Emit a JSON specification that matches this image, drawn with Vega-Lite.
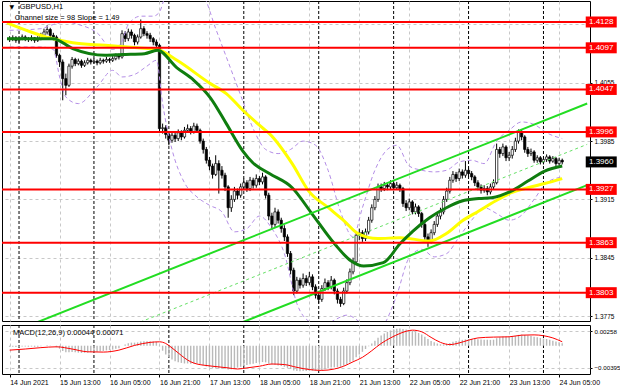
{
"$schema":"https://vega.github.io/schema/vega-lite/v6.json",
"padding":0,
"background":"#ffffff",
"spacing":2,
"config":{"view":{"stroke":"#000000","strokeWidth":1},"font":"Liberation Sans","axis":{"labelFont":"Liberation Sans","labelFontSize":6.5,"labelColor":"#000000","tickColor":"#000000","gridColor":"#c8c8c8","gridDash":[3,3],"gridWidth":1,"domain":false}},
"resolve":{"scale":{"x":"independent","y":"independent"}},
"datasets":{
"candles":[
{"t":0,"o":1.4108,"hi":1.4111,"lo":1.4104,"c":1.4107,"m":-0.0002},
{"t":1,"o":1.4107,"hi":1.4112,"lo":1.4105,"c":1.4109,"m":-0.00018},
{"t":2,"o":1.4109,"hi":1.4111,"lo":1.4103,"c":1.4106,"m":-0.00022},
{"t":3,"o":1.4106,"hi":1.4110,"lo":1.4103,"c":1.4108,"m":-0.0002},
{"t":4,"o":1.4108,"hi":1.4113,"lo":1.4106,"c":1.4110,"m":-0.00015},
{"t":5,"o":1.4110,"hi":1.4112,"lo":1.4105,"c":1.4108,"m":-0.00015},
{"t":6,"o":1.4108,"hi":1.4110,"lo":1.4104,"c":1.4107,"m":-0.00018},
{"t":7,"o":1.4107,"hi":1.4112,"lo":1.4105,"c":1.4109,"m":-0.00015},
{"t":8,"o":1.4109,"hi":1.4110,"lo":1.4103,"c":1.4106,"m":-0.0002},
{"t":9,"o":1.4106,"hi":1.4111,"lo":1.4104,"c":1.4108,"m":-0.00018},
{"t":10,"o":1.4108,"hi":1.4115,"lo":1.4106,"c":1.4112,"m":-0.0001},
{"t":11,"o":1.4112,"hi":1.4120,"lo":1.4110,"c":1.4116,"m":0},
{"t":12,"o":1.4116,"hi":1.4124,"lo":1.4113,"c":1.4119,"m":0.0001},
{"t":13,"o":1.4119,"hi":1.4121,"lo":1.4109,"c":1.4112,"m":0.00005},
{"t":14,"o":1.4112,"hi":1.4115,"lo":1.4106,"c":1.4110,"m":0},
{"t":15,"o":1.4110,"hi":1.4112,"lo":1.4085,"c":1.4088,"m":-0.0003},
{"t":16,"o":1.4088,"hi":1.4090,"lo":1.4074,"c":1.4080,"m":-0.00055},
{"t":17,"o":1.4080,"hi":1.4083,"lo":1.4034,"c":1.4060,"m":-0.00095},
{"t":18,"o":1.4060,"hi":1.4066,"lo":1.4040,"c":1.4052,"m":-0.0012},
{"t":19,"o":1.4052,"hi":1.4078,"lo":1.4050,"c":1.4075,"m":-0.0012},
{"t":20,"o":1.4075,"hi":1.4086,"lo":1.4072,"c":1.4083,"m":-0.00115},
{"t":21,"o":1.4083,"hi":1.4085,"lo":1.4075,"c":1.4078,"m":-0.0012},
{"t":22,"o":1.4078,"hi":1.4084,"lo":1.4076,"c":1.4081,"m":-0.00125},
{"t":23,"o":1.4081,"hi":1.4083,"lo":1.4073,"c":1.4076,"m":-0.0013},
{"t":24,"o":1.4076,"hi":1.4082,"lo":1.4074,"c":1.4079,"m":-0.00128},
{"t":25,"o":1.4079,"hi":1.4085,"lo":1.4077,"c":1.4082,"m":-0.00125},
{"t":26,"o":1.4082,"hi":1.4084,"lo":1.4077,"c":1.4080,"m":-0.0012},
{"t":27,"o":1.4080,"hi":1.4084,"lo":1.4078,"c":1.4081,"m":-0.00115},
{"t":28,"o":1.4081,"hi":1.4083,"lo":1.4076,"c":1.4079,"m":-0.0011},
{"t":29,"o":1.4079,"hi":1.4085,"lo":1.4077,"c":1.4082,"m":-0.001},
{"t":30,"o":1.4082,"hi":1.4084,"lo":1.4078,"c":1.4081,"m":-0.00095},
{"t":31,"o":1.4081,"hi":1.4086,"lo":1.4079,"c":1.4083,"m":-0.00085},
{"t":32,"o":1.4083,"hi":1.4085,"lo":1.4079,"c":1.4082,"m":-0.0008},
{"t":33,"o":1.4082,"hi":1.4087,"lo":1.4080,"c":1.4084,"m":-0.0007},
{"t":34,"o":1.4084,"hi":1.4090,"lo":1.4082,"c":1.4087,"m":-0.00055},
{"t":35,"o":1.4087,"hi":1.4090,"lo":1.4083,"c":1.4086,"m":-0.00045},
{"t":36,"o":1.4086,"hi":1.4118,"lo":1.4084,"c":1.4114,"m":0},
{"t":37,"o":1.4114,"hi":1.4117,"lo":1.4104,"c":1.4108,"m":0.0002},
{"t":38,"o":1.4108,"hi":1.4120,"lo":1.4105,"c":1.4116,"m":0.00045},
{"t":39,"o":1.4116,"hi":1.4119,"lo":1.4108,"c":1.4112,"m":0.00055},
{"t":40,"o":1.4112,"hi":1.4114,"lo":1.4100,"c":1.4104,"m":0.00055},
{"t":41,"o":1.4104,"hi":1.4113,"lo":1.4101,"c":1.4110,"m":0.0006},
{"t":42,"o":1.4110,"hi":1.4131,"lo":1.4108,"c":1.4120,"m":0.00075},
{"t":43,"o":1.4120,"hi":1.4123,"lo":1.4111,"c":1.4114,"m":0.0008},
{"t":44,"o":1.4114,"hi":1.4117,"lo":1.4108,"c":1.4112,"m":0.00082},
{"t":45,"o":1.4112,"hi":1.4115,"lo":1.4104,"c":1.4108,"m":0.0008},
{"t":46,"o":1.4108,"hi":1.4110,"lo":1.4100,"c":1.4104,"m":0.00075},
{"t":47,"o":1.4104,"hi":1.4107,"lo":1.4097,"c":1.4100,"m":0.00068},
{"t":48,"o":1.4100,"hi":1.4102,"lo":1.3995,"c":1.4000,"m":-0.0001},
{"t":49,"o":1.4000,"hi":1.4006,"lo":1.3994,"c":1.4001,"m":-0.0009},
{"t":50,"o":1.4001,"hi":1.4004,"lo":1.3988,"c":1.3993,"m":-0.0016},
{"t":51,"o":1.3993,"hi":1.3996,"lo":1.3980,"c":1.3986,"m":-0.0021},
{"t":52,"o":1.3986,"hi":1.3995,"lo":1.3983,"c":1.3992,"m":-0.0025},
{"t":53,"o":1.3992,"hi":1.3996,"lo":1.3984,"c":1.3988,"m":-0.0028},
{"t":54,"o":1.3988,"hi":1.3999,"lo":1.3985,"c":1.3995,"m":-0.003},
{"t":55,"o":1.3995,"hi":1.3998,"lo":1.3986,"c":1.3990,"m":-0.0031},
{"t":56,"o":1.3990,"hi":1.4002,"lo":1.3988,"c":1.3998,"m":-0.0032},
{"t":57,"o":1.3998,"hi":1.4005,"lo":1.3995,"c":1.4000,"m":-0.0032},
{"t":58,"o":1.4000,"hi":1.4003,"lo":1.3993,"c":1.3996,"m":-0.00325},
{"t":59,"o":1.3996,"hi":1.4007,"lo":1.3994,"c":1.4003,"m":-0.0032},
{"t":60,"o":1.4003,"hi":1.4006,"lo":1.3995,"c":1.3998,"m":-0.0032},
{"t":61,"o":1.3998,"hi":1.4000,"lo":1.3982,"c":1.3985,"m":-0.00335},
{"t":62,"o":1.3985,"hi":1.3988,"lo":1.3970,"c":1.3975,"m":-0.00355},
{"t":63,"o":1.3975,"hi":1.3978,"lo":1.3958,"c":1.3962,"m":-0.00375},
{"t":64,"o":1.3962,"hi":1.3966,"lo":1.3950,"c":1.3955,"m":-0.0039},
{"t":65,"o":1.3955,"hi":1.3958,"lo":1.3940,"c":1.3945,"m":-0.00405},
{"t":66,"o":1.3945,"hi":1.3968,"lo":1.3943,"c":1.3958,"m":-0.00405},
{"t":67,"o":1.3958,"hi":1.3962,"lo":1.3922,"c":1.3950,"m":-0.0041},
{"t":68,"o":1.3950,"hi":1.3955,"lo":1.3940,"c":1.3944,"m":-0.0041},
{"t":69,"o":1.3944,"hi":1.3947,"lo":1.3925,"c":1.3930,"m":-0.00415},
{"t":70,"o":1.3930,"hi":1.3932,"lo":1.3893,"c":1.3905,"m":-0.0043},
{"t":71,"o":1.3905,"hi":1.3920,"lo":1.3900,"c":1.3915,"m":-0.00425},
{"t":72,"o":1.3915,"hi":1.3930,"lo":1.3912,"c":1.3925,"m":-0.0041},
{"t":73,"o":1.3925,"hi":1.3928,"lo":1.3915,"c":1.3920,"m":-0.00395},
{"t":74,"o":1.3920,"hi":1.3934,"lo":1.3917,"c":1.3930,"m":-0.0038},
{"t":75,"o":1.3930,"hi":1.3940,"lo":1.3926,"c":1.3935,"m":-0.00365},
{"t":76,"o":1.3935,"hi":1.3938,"lo":1.3924,"c":1.3928,"m":-0.0035},
{"t":77,"o":1.3928,"hi":1.3942,"lo":1.3925,"c":1.3938,"m":-0.00335},
{"t":78,"o":1.3938,"hi":1.3941,"lo":1.3928,"c":1.3932,"m":-0.00325},
{"t":79,"o":1.3932,"hi":1.3945,"lo":1.3929,"c":1.3940,"m":-0.0031},
{"t":80,"o":1.3940,"hi":1.3943,"lo":1.3932,"c":1.3936,"m":-0.003},
{"t":81,"o":1.3936,"hi":1.3947,"lo":1.3933,"c":1.3942,"m":-0.00295},
{"t":82,"o":1.3942,"hi":1.3944,"lo":1.3916,"c":1.3920,"m":-0.003},
{"t":83,"o":1.3920,"hi":1.3923,"lo":1.3890,"c":1.3895,"m":-0.0032},
{"t":84,"o":1.3895,"hi":1.3899,"lo":1.3880,"c":1.3885,"m":-0.0034},
{"t":85,"o":1.3885,"hi":1.3905,"lo":1.3882,"c":1.3900,"m":-0.00345},
{"t":86,"o":1.3900,"hi":1.3903,"lo":1.3886,"c":1.3890,"m":-0.00355},
{"t":87,"o":1.3890,"hi":1.3893,"lo":1.3875,"c":1.3880,"m":-0.00365},
{"t":88,"o":1.3880,"hi":1.3884,"lo":1.3865,"c":1.3870,"m":-0.0038},
{"t":89,"o":1.3870,"hi":1.3873,"lo":1.3846,"c":1.3850,"m":-0.004},
{"t":90,"o":1.3850,"hi":1.3853,"lo":1.3825,"c":1.3830,"m":-0.0042},
{"t":91,"o":1.3830,"hi":1.3833,"lo":1.3800,"c":1.3805,"m":-0.00445},
{"t":92,"o":1.3805,"hi":1.3822,"lo":1.3802,"c":1.3818,"m":-0.00455},
{"t":93,"o":1.3818,"hi":1.3821,"lo":1.3808,"c":1.3812,"m":-0.0046},
{"t":94,"o":1.3812,"hi":1.3826,"lo":1.3809,"c":1.3820,"m":-0.00455},
{"t":95,"o":1.3820,"hi":1.3824,"lo":1.3811,"c":1.3815,"m":-0.00455},
{"t":96,"o":1.3815,"hi":1.3828,"lo":1.3812,"c":1.3822,"m":-0.0045},
{"t":97,"o":1.3822,"hi":1.3825,"lo":1.3806,"c":1.3810,"m":-0.0045},
{"t":98,"o":1.3810,"hi":1.3813,"lo":1.3796,"c":1.3800,"m":-0.00455},
{"t":99,"o":1.3800,"hi":1.3805,"lo":1.3790,"c":1.3795,"m":-0.0045},
{"t":100,"o":1.3795,"hi":1.3812,"lo":1.3792,"c":1.3808,"m":-0.0044},
{"t":101,"o":1.3808,"hi":1.3820,"lo":1.3805,"c":1.3815,"m":-0.00425},
{"t":102,"o":1.3815,"hi":1.3818,"lo":1.3806,"c":1.3810,"m":-0.0041},
{"t":103,"o":1.3810,"hi":1.3823,"lo":1.3807,"c":1.3818,"m":-0.00395},
{"t":104,"o":1.3818,"hi":1.3820,"lo":1.3801,"c":1.3805,"m":-0.0039},
{"t":105,"o":1.3805,"hi":1.3808,"lo":1.3790,"c":1.3795,"m":-0.00385},
{"t":106,"o":1.3795,"hi":1.3798,"lo":1.3786,"c":1.3790,"m":-0.0038},
{"t":107,"o":1.3790,"hi":1.3809,"lo":1.3788,"c":1.3805,"m":-0.0036},
{"t":108,"o":1.3805,"hi":1.3819,"lo":1.3802,"c":1.3815,"m":-0.00335},
{"t":109,"o":1.3815,"hi":1.3832,"lo":1.3812,"c":1.3828,"m":-0.00305},
{"t":110,"o":1.3828,"hi":1.3845,"lo":1.3825,"c":1.3840,"m":-0.0027},
{"t":111,"o":1.3840,"hi":1.3876,"lo":1.3838,"c":1.3872,"m":-0.0021},
{"t":112,"o":1.3872,"hi":1.3880,"lo":1.3866,"c":1.3875,"m":-0.0016},
{"t":113,"o":1.3875,"hi":1.3878,"lo":1.3864,"c":1.3868,"m":-0.0011},
{"t":114,"o":1.3868,"hi":1.3880,"lo":1.3865,"c":1.3876,"m":-0.0006},
{"t":115,"o":1.3876,"hi":1.3894,"lo":1.3873,"c":1.3890,"m":-0.0001},
{"t":116,"o":1.3890,"hi":1.3909,"lo":1.3887,"c":1.3905,"m":0.0004},
{"t":117,"o":1.3905,"hi":1.3919,"lo":1.3902,"c":1.3915,"m":0.0009},
{"t":118,"o":1.3915,"hi":1.3934,"lo":1.3912,"c":1.3930,"m":0.00145},
{"t":119,"o":1.3930,"hi":1.3934,"lo":1.3924,"c":1.3928,"m":0.00185},
{"t":120,"o":1.3928,"hi":1.3936,"lo":1.3925,"c":1.3932,"m":0.0022},
{"t":121,"o":1.3932,"hi":1.3935,"lo":1.3926,"c":1.3930,"m":0.0025},
{"t":122,"o":1.3930,"hi":1.3938,"lo":1.3927,"c":1.3934,"m":0.00275},
{"t":123,"o":1.3934,"hi":1.3936,"lo":1.3926,"c":1.3929,"m":0.00295},
{"t":124,"o":1.3929,"hi":1.3936,"lo":1.3927,"c":1.3932,"m":0.00305},
{"t":125,"o":1.3932,"hi":1.3934,"lo":1.3924,"c":1.3928,"m":0.0031},
{"t":126,"o":1.3928,"hi":1.3930,"lo":1.3906,"c":1.3910,"m":0.003},
{"t":127,"o":1.3910,"hi":1.3914,"lo":1.3901,"c":1.3905,"m":0.0029},
{"t":128,"o":1.3905,"hi":1.3916,"lo":1.3902,"c":1.3912,"m":0.0028},
{"t":129,"o":1.3912,"hi":1.3914,"lo":1.3897,"c":1.3900,"m":0.00265},
{"t":130,"o":1.3900,"hi":1.3910,"lo":1.3897,"c":1.3906,"m":0.0025},
{"t":131,"o":1.3906,"hi":1.3908,"lo":1.3894,"c":1.3898,"m":0.0023},
{"t":132,"o":1.3898,"hi":1.3900,"lo":1.3881,"c":1.3885,"m":0.002},
{"t":133,"o":1.3885,"hi":1.3888,"lo":1.3866,"c":1.3870,"m":0.0016},
{"t":134,"o":1.3870,"hi":1.3874,"lo":1.3858,"c":1.3865,"m":0.0012},
{"t":135,"o":1.3865,"hi":1.3879,"lo":1.3862,"c":1.3875,"m":0.00085},
{"t":136,"o":1.3875,"hi":1.3889,"lo":1.3872,"c":1.3885,"m":0.0006},
{"t":137,"o":1.3885,"hi":1.3899,"lo":1.3882,"c":1.3895,"m":0.0004},
{"t":138,"o":1.3895,"hi":1.3905,"lo":1.3891,"c":1.3900,"m":0.00025},
{"t":139,"o":1.3900,"hi":1.3919,"lo":1.3897,"c":1.3915,"m":0.00025},
{"t":140,"o":1.3915,"hi":1.3929,"lo":1.3912,"c":1.3925,"m":0.00035},
{"t":141,"o":1.3925,"hi":1.3942,"lo":1.3922,"c":1.3938,"m":0.0005},
{"t":142,"o":1.3938,"hi":1.3949,"lo":1.3935,"c":1.3945,"m":0.0007},
{"t":143,"o":1.3945,"hi":1.3948,"lo":1.3936,"c":1.3940,"m":0.00085},
{"t":144,"o":1.3940,"hi":1.3952,"lo":1.3937,"c":1.3948,"m":0.00095},
{"t":145,"o":1.3948,"hi":1.3951,"lo":1.3940,"c":1.3944,"m":0.00105},
{"t":146,"o":1.3944,"hi":1.3961,"lo":1.3941,"c":1.3950,"m":0.00115},
{"t":147,"o":1.3950,"hi":1.3953,"lo":1.3942,"c":1.3946,"m":0.0012},
{"t":148,"o":1.3946,"hi":1.3949,"lo":1.3938,"c":1.3942,"m":0.00122},
{"t":149,"o":1.3942,"hi":1.3944,"lo":1.3931,"c":1.3935,"m":0.0012},
{"t":150,"o":1.3935,"hi":1.3938,"lo":1.3926,"c":1.3930,"m":0.00115},
{"t":151,"o":1.3930,"hi":1.3933,"lo":1.3922,"c":1.3926,"m":0.0011},
{"t":152,"o":1.3926,"hi":1.3932,"lo":1.3923,"c":1.3928,"m":0.00108},
{"t":153,"o":1.3928,"hi":1.3931,"lo":1.3920,"c":1.3924,"m":0.00105},
{"t":154,"o":1.3924,"hi":1.3934,"lo":1.3921,"c":1.3930,"m":0.00105},
{"t":155,"o":1.3930,"hi":1.3939,"lo":1.3927,"c":1.3935,"m":0.00108},
{"t":156,"o":1.3935,"hi":1.3982,"lo":1.3933,"c":1.3975,"m":0.00135},
{"t":157,"o":1.3975,"hi":1.3978,"lo":1.3965,"c":1.3970,"m":0.0015},
{"t":158,"o":1.3970,"hi":1.3982,"lo":1.3967,"c":1.3978,"m":0.00165},
{"t":159,"o":1.3978,"hi":1.3980,"lo":1.3961,"c":1.3965,"m":0.00165},
{"t":160,"o":1.3965,"hi":1.3972,"lo":1.3961,"c":1.3968,"m":0.00165},
{"t":161,"o":1.3968,"hi":1.3979,"lo":1.3964,"c":1.3975,"m":0.0017},
{"t":162,"o":1.3975,"hi":1.3989,"lo":1.3972,"c":1.3985,"m":0.0018},
{"t":163,"o":1.3985,"hi":1.3999,"lo":1.3982,"c":1.3996,"m":0.00195},
{"t":164,"o":1.3996,"hi":1.3999,"lo":1.3986,"c":1.3990,"m":0.002},
{"t":165,"o":1.3990,"hi":1.3992,"lo":1.3971,"c":1.3975,"m":0.00195},
{"t":166,"o":1.3975,"hi":1.3978,"lo":1.3966,"c":1.3970,"m":0.00185},
{"t":167,"o":1.3970,"hi":1.3976,"lo":1.3967,"c":1.3972,"m":0.00175},
{"t":168,"o":1.3972,"hi":1.3974,"lo":1.3959,"c":1.3962,"m":0.0016},
{"t":169,"o":1.3962,"hi":1.3968,"lo":1.3959,"c":1.3965,"m":0.0015},
{"t":170,"o":1.3965,"hi":1.3967,"lo":1.3957,"c":1.3960,"m":0.0014},
{"t":171,"o":1.3960,"hi":1.3966,"lo":1.3957,"c":1.3963,"m":0.0013},
{"t":172,"o":1.3963,"hi":1.3969,"lo":1.3960,"c":1.3966,"m":0.0012},
{"t":173,"o":1.3966,"hi":1.3968,"lo":1.3958,"c":1.3961,"m":0.00105},
{"t":174,"o":1.3961,"hi":1.3967,"lo":1.3959,"c":1.3964,"m":0.0009},
{"t":175,"o":1.3964,"hi":1.3966,"lo":1.3955,"c":1.3958,"m":0.00075},
{"t":176,"o":1.3958,"hi":1.3965,"lo":1.3956,"c":1.3962,"m":0.0006},
{"t":177,"o":1.3962,"hi":1.3964,"lo":1.3957,"c":1.3960,"m":0.00044}
],
"green":[{"t":-0.85,"v":1.4108},{"t":13.9,"v":1.4108},{"t":20.2,"v":1.4096},{"t":30.6,"v":1.4088},{"t":36,"v":1.4089},{"t":43.2,"v":1.409},{"t":47.3,"v":1.4094},{"t":53.6,"v":1.4073},{"t":59,"v":1.4058},{"t":64.3,"v":1.4037},{"t":69.4,"v":1.4006},{"t":74.7,"v":1.3973},{"t":77.9,"v":1.3959},{"t":83.2,"v":1.3946},{"t":90.5,"v":1.3929},{"t":96.8,"v":1.3898},{"t":104,"v":1.3862},{"t":109.4,"v":1.3841},{"t":113.4,"v":1.3835},{"t":119.7,"v":1.3839},{"t":125.1,"v":1.3862},{"t":129.2,"v":1.3877},{"t":134.5,"v":1.3893},{"t":139.9,"v":1.3905},{"t":144.9,"v":1.3913},{"t":150.3,"v":1.3916},{"t":154.4,"v":1.3917},{"t":160.7,"v":1.3925},{"t":166,"v":1.3937},{"t":171.4,"v":1.3949},{"t":177,"v":1.3955}],
"yellow":[{"t":-0.85,"v":1.4127},{"t":12.7,"v":1.4109},{"t":20.2,"v":1.4103},{"t":30.6,"v":1.41},{"t":41,"v":1.4097},{"t":47.3,"v":1.4095},{"t":53.6,"v":1.4082},{"t":64.3,"v":1.4054},{"t":69.4,"v":1.4042},{"t":74.7,"v":1.4022},{"t":81,"v":1.4001},{"t":83.2,"v":1.3994},{"t":90.5,"v":1.3958},{"t":95.8,"v":1.3925},{"t":102.1,"v":1.3905},{"t":107.2,"v":1.3889},{"t":111.6,"v":1.3874},{"t":117.9,"v":1.3868},{"t":125.1,"v":1.3869},{"t":134.5,"v":1.3865},{"t":139.9,"v":1.3874},{"t":144.9,"v":1.3889},{"t":150.3,"v":1.3901},{"t":155.6,"v":1.3913},{"t":160.7,"v":1.3923},{"t":166,"v":1.3929},{"t":171.4,"v":1.3934},{"t":177,"v":1.394}],
"bands":[
{"b":"u","t":0,"v":1.4118},{"b":"u","t":10,"v":1.412},{"b":"u","t":14,"v":1.4125},{"b":"u","t":18,"v":1.4128},{"b":"u","t":22,"v":1.4125},{"b":"u","t":28,"v":1.4115},{"b":"u","t":33,"v":1.4095},{"b":"u","t":36,"v":1.4105},{"b":"u","t":38,"v":1.4125},{"b":"u","t":42,"v":1.4135},{"b":"u","t":46,"v":1.4135},{"b":"u","t":48,"v":1.414},{"b":"u","t":50,"v":1.416},{"b":"u","t":54,"v":1.417},{"b":"u","t":58,"v":1.417},{"b":"u","t":62,"v":1.416},{"b":"u","t":66,"v":1.412},{"b":"u","t":70,"v":1.408},{"b":"u","t":74,"v":1.404},{"b":"u","t":78,"v":1.4},{"b":"u","t":82,"v":1.3975},{"b":"u","t":86,"v":1.397},{"b":"u","t":90,"v":1.3975},{"b":"u","t":94,"v":1.3985},{"b":"u","t":98,"v":1.398},{"b":"u","t":102,"v":1.395},{"b":"u","t":106,"v":1.39},{"b":"u","t":110,"v":1.387},{"b":"u","t":113,"v":1.3905},{"b":"u","t":117,"v":1.395},{"b":"u","t":121,"v":1.3975},{"b":"u","t":124,"v":1.398},{"b":"u","t":128,"v":1.3955},{"b":"u","t":132,"v":1.395},{"b":"u","t":136,"v":1.3948},{"b":"u","t":140,"v":1.395},{"b":"u","t":144,"v":1.396},{"b":"u","t":148,"v":1.3962},{"b":"u","t":152,"v":1.3958},{"b":"u","t":156,"v":1.3985},{"b":"u","t":160,"v":1.3998},{"b":"u","t":164,"v":1.4008},{"b":"u","t":168,"v":1.4005},{"b":"u","t":172,"v":1.3995},{"b":"u","t":177,"v":1.3988},
{"b":"l","t":0,"v":1.4098},{"b":"l","t":10,"v":1.4098},{"b":"l","t":14,"v":1.4095},{"b":"l","t":16,"v":1.4062},{"b":"l","t":18,"v":1.4038},{"b":"l","t":22,"v":1.403},{"b":"l","t":28,"v":1.405},{"b":"l","t":33,"v":1.407},{"b":"l","t":36,"v":1.4062},{"b":"l","t":40,"v":1.4065},{"b":"l","t":44,"v":1.4075},{"b":"l","t":47,"v":1.4082},{"b":"l","t":49,"v":1.403},{"b":"l","t":52,"v":1.3975},{"b":"l","t":56,"v":1.3935},{"b":"l","t":60,"v":1.3918},{"b":"l","t":64,"v":1.3908},{"b":"l","t":68,"v":1.39},{"b":"l","t":72,"v":1.3876},{"b":"l","t":76,"v":1.388},{"b":"l","t":80,"v":1.3895},{"b":"l","t":84,"v":1.388},{"b":"l","t":88,"v":1.385},{"b":"l","t":92,"v":1.379},{"b":"l","t":96,"v":1.3768},{"b":"l","t":100,"v":1.3762},{"b":"l","t":104,"v":1.377},{"b":"l","t":108,"v":1.3776},{"b":"l","t":112,"v":1.3768},{"b":"l","t":116,"v":1.3752},{"b":"l","t":120,"v":1.3765},{"b":"l","t":124,"v":1.38},{"b":"l","t":128,"v":1.3845},{"b":"l","t":132,"v":1.3855},{"b":"l","t":136,"v":1.3846},{"b":"l","t":140,"v":1.385},{"b":"l","t":144,"v":1.387},{"b":"l","t":148,"v":1.389},{"b":"l","t":152,"v":1.3905},{"b":"l","t":156,"v":1.3898},{"b":"l","t":160,"v":1.389},{"b":"l","t":164,"v":1.3896},{"b":"l","t":168,"v":1.3915},{"b":"l","t":172,"v":1.3935},{"b":"l","t":177,"v":1.3942}
],
"chan":[{"k":"upper","t":-1,"v":1.37529},{"k":"upper","t":185,"v":1.40301},{"k":"lower","t":-1,"v":1.36549},{"k":"lower","t":185,"v":1.39321}],
"chanmid":[{"t":-1,"v":1.37039},{"t":185,"v":1.39811}],
"levels":[{"v":1.4128},{"v":1.4097},{"v":1.4047},{"v":1.3996},{"v":1.3927},{"v":1.3863},{"v":1.3803}],
"price":[{"v":1.396}],
"seps":[{"t":3},{"t":27},{"t":51},{"t":75},{"t":99},{"t":123},{"t":147},{"t":171}],
"sig":[{"t":0,"v":-0.0008},{"t":5,"v":-0.0006},{"t":10,"v":-0.00035},{"t":15,"v":-0.0002},{"t":20,"v":-0.0006},{"t":25,"v":-0.0011},{"t":30,"v":-0.00115},{"t":35,"v":-0.0008},{"t":40,"v":0.00005},{"t":45,"v":0.0006},{"t":48,"v":0.0007},{"t":50,"v":0.0004},{"t":52,"v":-0.0004},{"t":54,"v":-0.0013},{"t":56,"v":-0.0022},{"t":58,"v":-0.0029},{"t":60,"v":-0.0033},{"t":62,"v":-0.0035},{"t":65,"v":-0.0037},{"t":70,"v":-0.004},{"t":73,"v":-0.0042},{"t":76,"v":-0.004},{"t":80,"v":-0.0037},{"t":84,"v":-0.0033},{"t":88,"v":-0.0034},{"t":92,"v":-0.0039},{"t":96,"v":-0.0043},{"t":100,"v":-0.00445},{"t":104,"v":-0.0042},{"t":107,"v":-0.0037},{"t":110,"v":-0.0029},{"t":113,"v":-0.0021},{"t":116,"v":-0.0009},{"t":119,"v":0.0004},{"t":122,"v":0.0014},{"t":125,"v":0.0022},{"t":127,"v":0.0026},{"t":129,"v":0.0028},{"t":132,"v":0.0025},{"t":135,"v":0.0015},{"t":138,"v":0.0006},{"t":141,"v":0.0002},{"t":144,"v":0.0005},{"t":147,"v":0.001},{"t":150,"v":0.0014},{"t":155,"v":0.00155},{"t":160,"v":0.0016},{"t":164,"v":0.0019},{"t":168,"v":0.00195},{"t":171,"v":0.0018},{"t":174,"v":0.0014},{"t":177,"v":0.00071}],
"one":[{"n":1}]
},
"vconcat":[
{
"width":588,"height":320,
"layer":[
{"data":{"name":"seps"},"mark":{"type":"rule","color":"#000000","strokeWidth":1,"strokeDash":[3,2]},
 "encoding":{"x":{"field":"t","type":"quantitative","scale":{"domain":[-0.85,184.3],"nice":false,"zero":false},"axis":{"values":[0,16,32,48,64,80,96,112,128,144,160,176],"labels":false,"ticks":false,"domain":false,"grid":true,"title":null}}}},
{"data":{"name":"candles"},"mark":{"type":"rule","color":"#000000","strokeWidth":1},
 "encoding":{"x":{"field":"t","type":"quantitative","scale":{"domain":[-0.85,184.3],"nice":false,"zero":false}},
  "y":{"field":"lo","type":"quantitative","scale":{"domain":[1.3769,1.41532],"nice":false,"zero":false},"axis":{"orient":"right","values":[1.3775,1.381,1.3845,1.388,1.3915,1.395,1.3985,1.402,1.4055,1.409,1.4125],"format":".4f","title":null,"grid":true,"tickSize":2,"labelPadding":2}},
  "y2":{"field":"hi"}}},
{"data":{"name":"candles"},"mark":{"type":"bar","width":2.3,"stroke":"#000000","strokeWidth":0.7},
 "encoding":{"x":{"field":"t","type":"quantitative"},"y":{"field":"o","type":"quantitative"},"y2":{"field":"c"},
  "fill":{"condition":{"test":"datum.c >= datum.o","value":"#ffffff"},"value":"#000000"}}},
{"data":{"name":"bands"},"mark":{"type":"line","color":"#b48ee6","strokeWidth":1,"strokeDash":[4,3],"interpolate":"monotone","clip":true},
 "encoding":{"x":{"field":"t","type":"quantitative"},"y":{"field":"v","type":"quantitative"},"detail":{"field":"b"}}},
{"data":{"name":"yellow"},"mark":{"type":"line","color":"#ffff00","strokeWidth":3,"interpolate":"monotone"},
 "encoding":{"x":{"field":"t","type":"quantitative"},"y":{"field":"v","type":"quantitative"}}},
{"data":{"name":"green"},"mark":{"type":"line","color":"#0f7d0f","strokeWidth":3,"interpolate":"monotone"},
 "encoding":{"x":{"field":"t","type":"quantitative"},"y":{"field":"v","type":"quantitative"}}},
{"data":{"name":"chanmid"},"mark":{"type":"line","color":"#66e066","strokeWidth":1,"strokeDash":[3,3],"clip":true},
 "encoding":{"x":{"field":"t","type":"quantitative"},"y":{"field":"v","type":"quantitative"}}},
{"data":{"name":"chan"},"mark":{"type":"line","color":"#22dd22","strokeWidth":2,"clip":true},
 "encoding":{"x":{"field":"t","type":"quantitative"},"y":{"field":"v","type":"quantitative"},"detail":{"field":"k"}}},
{"data":{"name":"levels"},"mark":{"type":"rule","color":"#ff0000","strokeWidth":2},
 "encoding":{"y":{"field":"v","type":"quantitative"}}},
{"data":{"name":"levels"},"mark":{"type":"tick","orient":"horizontal","color":"#ff0000","size":31,"thickness":11,"opacity":1},
 "encoding":{"x":{"datum":189.5,"type":"quantitative"},"y":{"field":"v","type":"quantitative"}}},
{"data":{"name":"levels"},"mark":{"type":"text","color":"#ffffff","fontSize":8,"align":"center","baseline":"middle"},
 "encoding":{"x":{"datum":189.5,"type":"quantitative"},"y":{"field":"v","type":"quantitative"},"text":{"field":"v","type":"quantitative","format":".4f"}}},
{"data":{"name":"price"},"mark":{"type":"tick","orient":"horizontal","color":"#000000","size":31,"thickness":11,"opacity":1},
 "encoding":{"x":{"datum":189.5,"type":"quantitative"},"y":{"field":"v","type":"quantitative"}}},
{"data":{"name":"price"},"mark":{"type":"text","color":"#ffffff","fontSize":8,"align":"center","baseline":"middle"},
 "encoding":{"x":{"datum":189.5,"type":"quantitative"},"y":{"field":"v","type":"quantitative"},"text":{"field":"v","type":"quantitative","format":".4f"}}},
{"data":{"name":"one"},"mark":{"type":"text","text":"▼","font":"DejaVu Sans","fontSize":6,"align":"center","baseline":"middle","color":"#000000"},
 "encoding":{"x":{"datum":0.72,"type":"quantitative"},"y":{"datum":1.4146,"type":"quantitative"}}},
{"data":{"name":"one"},"mark":{"type":"text","text":"GBPUSD,H1","fontSize":7.5,"align":"left","baseline":"middle","color":"#000000"},
 "encoding":{"x":{"datum":3.24,"type":"quantitative"},"y":{"datum":1.4146,"type":"quantitative"}}},
{"data":{"name":"one"},"mark":{"type":"text","text":"Channel size = 98 Slope = 1.49","fontSize":7.5,"align":"left","baseline":"middle","color":"#000000"},
 "encoding":{"x":{"datum":1.67,"type":"quantitative"},"y":{"datum":1.41328,"type":"quantitative"}}}
]
},
{
"width":588,"height":49,
"layer":[
{"data":{"name":"seps"},"mark":{"type":"rule","color":"#000000","strokeWidth":1,"strokeDash":[3,2]},
 "encoding":{"x":{"field":"t","type":"quantitative","scale":{"domain":[-0.85,184.3],"nice":false,"zero":false},"axis":{"values":[0,16,32,48,64,80,96,112,128,144,160,176],"grid":true,"title":null,"ticks":true,"tickSize":3,"labelPadding":1,"labelFontSize":7,"labelAlign":"left","labelFlush":false,"labelOverlap":false,"labelBound":false,"labelExpr":"['14 Jun 2021','15 Jun 13:00','16 Jun 05:00','16 Jun 21:00','17 Jun 13:00','18 Jun 05:00','18 Jun 21:00','21 Jun 13:00','22 Jun 05:00','22 Jun 21:00','23 Jun 13:00','24 Jun 05:00'][round(datum.value/16)]"}}}},
{"data":{"name":"candles"},"mark":{"type":"bar","color":"#b9b9b9","width":1.4},
 "encoding":{"x":{"field":"t","type":"quantitative"},
  "y":{"field":"m","type":"quantitative","scale":{"domain":[-0.0051,0.00373],"nice":false,"zero":false},"axis":{"orient":"right","values":[0.00258,0,-0.00395],"labelExpr":"datum.value == 0 ? '0.00' : format(datum.value, '.5f')","title":null,"grid":true,"tickSize":2,"labelPadding":2,"labelFontSize":6.2}},
  "y2":{"datum":0}}},
{"data":{"name":"sig"},"mark":{"type":"line","color":"#ff0000","strokeWidth":1,"interpolate":"monotone"},
 "encoding":{"x":{"field":"t","type":"quantitative"},"y":{"field":"v","type":"quantitative"}}},
{"data":{"name":"one"},"mark":{"type":"text","text":"MACD(12,26,9) 0.00044 0.00071","fontSize":7.5,"align":"left","baseline":"middle","color":"#000000"},
 "encoding":{"x":{"datum":1.04,"type":"quantitative"},"y":{"datum":0.00229,"type":"quantitative"}}}
]
}
]
}
